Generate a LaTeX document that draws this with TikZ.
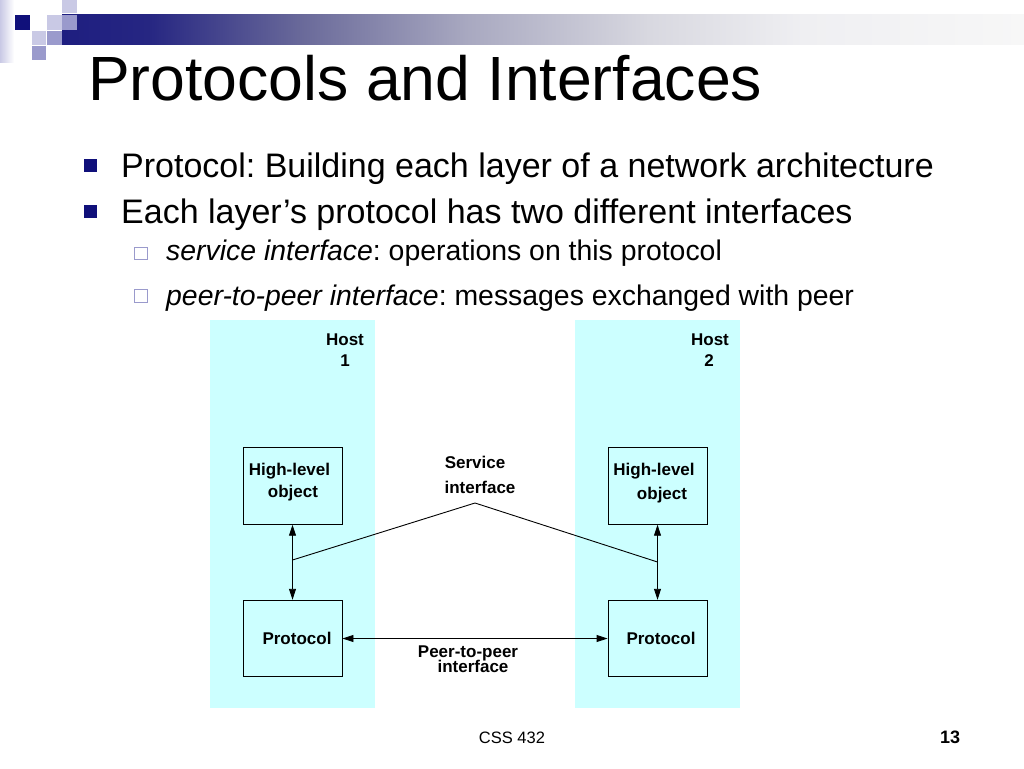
\documentclass[tikz,border=0pt]{standalone}
\usepackage{fontspec}
\setmainfont{Liberation Sans}
\frenchspacing
\usetikzlibrary{arrows.meta}
\definecolor{navy}{HTML}{10107A}
\definecolor{hostcyan}{HTML}{CCFFFF}
\definecolor{lav}{HTML}{9A9ACC}
\definecolor{lavlight}{HTML}{C9C9E5}
\definecolor{barA}{HTML}{1E1E80}
\definecolor{barB}{HTML}{262682}
\definecolor{barC}{HTML}{6A6A9A}
\definecolor{barD}{HTML}{A8A8C0}
\definecolor{barE}{HTML}{D8D8E0}
\definecolor{barF}{HTML}{EFEFF2}
\definecolor{barG}{HTML}{F7F7F7}
\pgfdeclarehorizontalshading{barshade}{100bp}{color(0bp)=(barA); color(25bp)=(barA); color(29.5bp)=(barB); color(37.5bp)=(barC); color(46bp)=(barD); color(55.5bp)=(barE); color(63.5bp)=(barF); color(75bp)=(barG); color(100bp)=(barG)}
\begin{document}
\begin{tikzpicture}[x=1pt,y=-1pt,
  lbl/.style={font=\fontsize{17}{17}\selectfont\bfseries, inner sep=0},
  titlefont/.style={anchor=base west, inner sep=0, font=\fontsize{62.5}{62.5}\selectfont},
  lvlone/.style={anchor=base west, inner sep=0, font=\fontsize{34}{34}\selectfont},
  lvltwo/.style={anchor=base west, inner sep=0, font=\fontsize{28.4}{28.4}\selectfont},
  bulone/.style={fill=navy, inner sep=0, minimum size=13pt},
  bultwo/.style={draw=lav, line width=1.1pt, fill=white, inner sep=0, minimum size=12.5pt},
  hostbg/.style={fill=hostcyan, inner sep=0, minimum width=165pt, minimum height=388pt, anchor=north west},
  objbox/.style={draw=black, line width=0.9pt, fill=hostcyan, inner sep=0, minimum width=99pt, minimum height=76.5pt},
  dbl/.style={line width=0.9pt, {Triangle[length=11pt,width=7pt]}-{Triangle[length=11pt,width=7pt]}},
  thin/.style={line width=0.9pt}]
\useasboundingbox (0,0) rectangle (1024,768);
\fill[white] (0,0) rectangle (1024,768);
% header decoration
\shade[left color=lavlight, right color=white] (0,0) rectangle (14,62);
\shade[shading=barshade] (62,15) rectangle (1024,45);
\fill[navy] (15,15) rectangle (30,30);
\fill[lavlight] (47,15) rectangle (61.5,30);
\fill[lav] (62,15) rectangle (77,30);
\fill[lavlight] (62,0) rectangle (77,13.5);
\fill[lavlight] (32,31) rectangle (46,45);
\fill[lav] (47,31) rectangle (61.5,45);
\fill[lav] (32,46.5) rectangle (46,60);
% title and bullets
\node[titlefont] (title) at (88,100) {Protocols and Interfaces};
\node[bulone] (b1) at (90.5,165) {};
\node[lvlone] (t1) at (121,177) {Protocol: Building each layer of a network architecture};
\node[bulone] (b2) at (90.5,211) {};
\node[lvlone] (t2) at (121,223) {Each layer’s protocol has two different interfaces};
\node[bultwo] (c1) at (141,253.5) {};
\node[lvltwo] (s1) at (166,260) {\textit{service interface}: operations on this protocol};
\node[bultwo] (c2) at (141,296) {};
\node[lvltwo] (s2) at (166,305) {\textit{peer-to-peer interface}: messages exchanged with peer};
% hosts
\node[hostbg] (host1) at (210,320) {};
\node[hostbg] (host2) at (575,320) {};
\node[lbl] (h1a) at (345,340) {Host};
\node[lbl] (h1b) at (345,361) {1};
\node[lbl] (h2a) at (710,340) {Host};
\node[lbl] (h2b) at (709,361) {2};
% boxes
\node[objbox] (hl1) at (292.5,486) {};
\node[objbox] (pr1) at (292.5,638.5) {};
\node[objbox] (hl2) at (657.5,486) {};
\node[objbox] (pr2) at (657.5,638.5) {};
\node[lbl] (hl1a) at (289.5,471) {High-level};
\node[lbl] (hl1b) at (293,493) {object};
\node[lbl] (hl2a) at (654,471) {High-level};
\node[lbl] (hl2b) at (662,495) {object};
\node[lbl] (pr1t) at (297,638) {Protocol};
\node[lbl] (pr2t) at (661,638) {Protocol};
% connectors
\draw[dbl] (hl1.south) -- (pr1.north);
\draw[dbl] (hl2.south) -- (pr2.north);
\draw[dbl] (pr1.east) -- (pr2.west);
\coordinate (sL) at (292.5,560);
\coordinate (apex) at (475,503);
\coordinate (sR) at (657.5,562);
\draw[thin] (sL) -- (apex) -- (sR);
\node[lbl] (sv1) at (475,462) {Service};
\node[lbl] (sv2) at (480,487) {interface};
\node[lbl] (pp1) at (468,653) {Peer-to-peer};
\node[lbl] (pp2) at (473,666) {interface};
% footer
\node[anchor=base, inner sep=0, font=\fontsize{16.5}{16.5}\selectfont] (foot) at (512,743) {CSS 432};
\node[anchor=base, inner sep=0, font=\fontsize{18}{18}\selectfont\bfseries] (pnum) at (950,743) {13};
\end{tikzpicture}
\end{document}
